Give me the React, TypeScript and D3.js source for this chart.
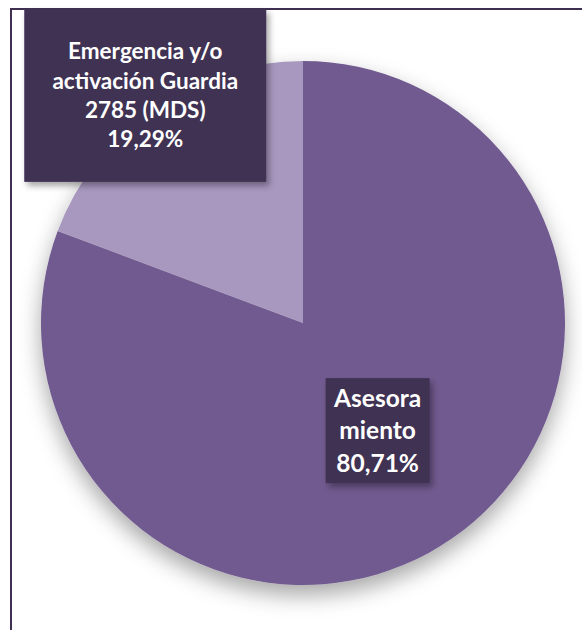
import React, { useEffect, useRef } from "react";
import * as d3 from "d3";

const categories = ["Asesoramiento", "Emergencia y/o activación Guardia 2785 (MDS)"];
const shares = [80.71, 19.29];
const labelLines = [
  ["Asesora", "miento", "80,71%"],
  ["Emergencia y/o", "activación Guardia", "2785 (MDS)", "19,29%"],
];
const sliceColors = ["#715a8f", "#a898c0"];

function App() {
  const ref = useRef<SVGSVGElement>(null);

  useEffect(() => {
    document.body.style.margin = "0";
    const width = 582;
    const height = 630;
    const svg = d3.select(ref.current).attr("width", width).attr("height", height);
    svg.selectAll("*").remove();

    const defs = svg.append("defs");
    defs
      .append("filter")
      .attr("id", "pie-shadow")
      .attr("x", "-20%")
      .attr("y", "-20%")
      .attr("width", "140%")
      .attr("height", "140%")
      .append("feDropShadow")
      .attr("dx", 0)
      .attr("dy", 10)
      .attr("stdDeviation", 11)
      .attr("flood-color", "#000")
      .attr("flood-opacity", 0.35);
    defs
      .append("filter")
      .attr("id", "box-shadow")
      .attr("x", "-20%")
      .attr("y", "-20%")
      .attr("width", "140%")
      .attr("height", "140%")
      .append("feDropShadow")
      .attr("dx", 3)
      .attr("dy", 4)
      .attr("stdDeviation", 3)
      .attr("flood-color", "#000")
      .attr("flood-opacity", 0.35);

    svg.append("rect").attr("width", width).attr("height", height).attr("fill", "#fff");

    // chart border (right and bottom run off the picture)
    svg
      .append("rect")
      .attr("x", 11)
      .attr("y", 9)
      .attr("width", width + 20)
      .attr("height", height + 20)
      .attr("fill", "none")
      .attr("stroke", "#3f3052")
      .attr("stroke-width", 2);

    const cx = 303;
    const cy = 323;
    const radius = 262;

    const data = categories.map((c, i) => ({ name: c, value: shares[i], lines: labelLines[i] }));
    const pie = d3
      .pie<any>()
      .sort(null)
      .value((d) => d.value);
    const arcs = pie(data);

    const arc = d3.arc<any>().innerRadius(0).outerRadius(radius);

    const g = svg.append("g").attr("transform", `translate(${cx},${cy})`);

    g.append("g")
      .style("filter", "url(#pie-shadow)")
      .selectAll("path")
      .data(arcs)
      .enter()
      .append("path")
      .attr("d", arc)
      .attr("fill", (d, i) => sliceColors[i]);

    // label radius / box size per slice
    const labelRadius = [radius * 0.5, radius * 1.057];
    const boxSize = [
      [104, 105],
      [242, 173],
    ];
    const fontSize = [24.5, 22.5];
    const lineHeight = [32.5, 29.3];

    arcs.forEach((a, i) => {
      const la = d3.arc<any>().innerRadius(labelRadius[i]).outerRadius(labelRadius[i]);
      const [lx, ly] = la.centroid(a);
      const [bw, bh] = boxSize[i];
      const lg = g.append("g").attr("transform", `translate(${lx},${ly})`);
      lg.append("rect")
        .attr("x", -bw / 2)
        .attr("y", -bh / 2)
        .attr("width", bw)
        .attr("height", bh)
        .attr("fill", "#3f3052")
        .style("filter", "url(#box-shadow)");
      const lines = a.data.lines;
      const n = lines.length;
      lg.append("text")
        .attr("text-anchor", "middle")
        .attr("fill", "#fff")
        .style("font-family", "Lato, 'Open Sans', sans-serif")
        .style("font-weight", "bold")
        .style("font-size", fontSize[i] + "px")
        .selectAll("tspan")
        .data(lines)
        .enter()
        .append("tspan")
        .attr("x", 0)
        .attr("y", (d, k) => (k - (n - 1) / 2) * lineHeight[i])
        .attr("dy", "0.35em")
        .text((d) => d as string);
    });
  }, []);

  return <svg ref={ref} style={{ display: "block" }} />;
}

export default App;
